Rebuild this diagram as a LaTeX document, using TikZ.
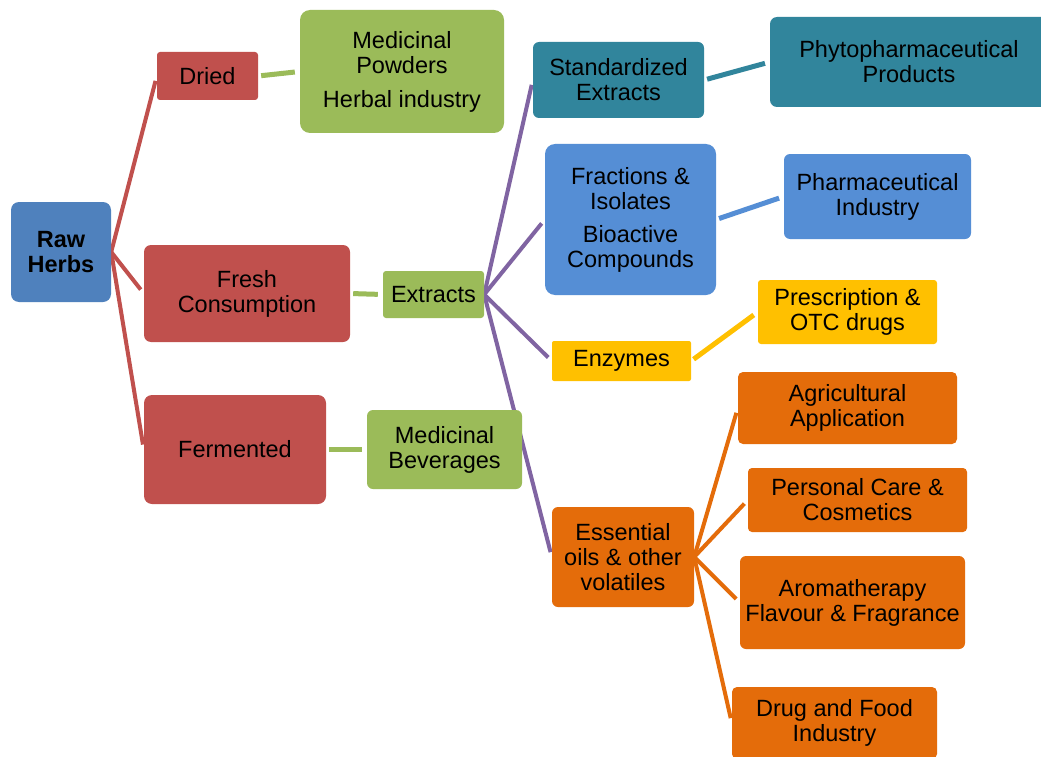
\documentclass[tikz,border=0pt]{standalone}
\usepackage{fontspec}
\setmainfont{Liberation Sans}
\usetikzlibrary{calc}

\definecolor{herbred}{HTML}{C0504D}
\definecolor{herbgreen}{HTML}{9BBB59}
\definecolor{herbblue}{HTML}{4F81BD}
\definecolor{herbteal}{HTML}{31859C}
\definecolor{herbsky}{HTML}{558ED5}
\definecolor{herbgold}{HTML}{FFC000}
\definecolor{herborange}{HTML}{E46C0A}
\definecolor{herbpurple}{HTML}{8064A2}

\pgfdeclarelayer{bg}
\pgfsetlayers{bg,main}

\begin{document}
\begin{tikzpicture}[
                x=1pt, y=-1pt,
                box/.style={rectangle, rounded corners=6pt, inner sep=0pt,
                    align=center, font=\fontsize{23.5}{25}\selectfont},
                fan/.style={line width=4pt, shorten >=5pt},
                link/.style={line width=5pt, shorten <=3pt, shorten >=5pt},
            ]
                \useasboundingbox (0, 0) rectangle (1041, 757);

                %% root and first level
                \node[box, fill=herbblue, minimum width=100, minimum height=100,
                    rounded corners=8pt, font=\fontsize{23.5}{25}\selectfont\bfseries]
                    (raw) at (61, 252) {Raw\\Herbs};
                \node[box, fill=herbred, minimum width=101, minimum height=48,
                    rounded corners=3pt] (dried) at (207.5, 76) {Dried};
                \node[box, fill=herbred, minimum width=206, minimum height=97,
                    rounded corners=7pt] (fresh) at (247, 293.5) {Fresh\\Consumption};
                \node[box, fill=herbred, minimum width=182, minimum height=109,
                    rounded corners=8pt] (fermented) at (235, 449.5) {Fermented};

                %% second level
                \node[box, fill=herbgreen, minimum width=204, minimum height=123,
                    rounded corners=10pt] (powders) at (402, 71.5)
                    {Medicinal\\Powders\\[9pt]Herbal industry};
                \node[box, fill=herbgreen, minimum width=101, minimum height=47,
                    rounded corners=3pt] (extracts) at (433.5, 294.5) {Extracts};
                \node[box, fill=herbgreen, minimum width=155, minimum height=79]
                    (beverages) at (444.5, 449.5) {Medicinal\\Beverages};

                %% what the extracts give
                \node[box, fill=herbteal, minimum width=171, minimum height=76]
                    (standard) at (618.5, 80) {Standardized\\Extracts};
                \node[box, fill=herbsky, minimum width=171, minimum height=151,
                    rounded corners=10pt] (fractions) at (630.5, 219.5)
                    {Fractions \&\\Isolates\\[8pt]Bioactive\\Compounds};
                \node[box, fill=herbgold, minimum width=139, minimum height=40,
                    rounded corners=2pt] (enzymes) at (621.5, 361) {Enzymes};
                \node[box, fill=herborange, minimum width=142, minimum height=100]
                    (essential) at (623, 557) {Essential\\oils \& other\\volatiles};

                %% end uses
                \node[box, fill=herbteal, minimum width=278, minimum height=90,
                    rounded corners=7pt] (phyto) at (909, 62)
                    {Phytopharmaceutical\\Products};
                \node[box, fill=herbsky, minimum width=187, minimum height=85]
                    (pharma) at (877.5, 196.5) {Pharmaceutical\\Industry};
                \node[box, fill=herbgold, minimum width=179, minimum height=64,
                    rounded corners=3pt] (otc) at (847.5, 312)
                    {Prescription \&\\OTC drugs};
                \node[box, fill=herborange, minimum width=219, minimum height=72,
                    rounded corners=5pt] (agri) at (847.5, 408)
                    {Agricultural\\Application};
                \node[box, fill=herborange, minimum width=219, minimum height=64,
                    rounded corners=4pt] (care) at (857.5, 500)
                    {Personal Care \&\\Cosmetics};
                \node[box, fill=herborange, minimum width=225, minimum height=93]
                    (aroma) at (852.5, 602.5) {Aromatherapy\\Flavour \& Fragrance};
                \node[box, fill=herborange, minimum width=205, minimum height=72,
                    rounded corners=5pt] (drug) at (834.5, 723)
                    {Drug and Food\\Industry};

                %% connectors sit behind the boxes
                \begin{pgfonlayer}{bg}
                    \fill[white] (0, 0) rectangle (1041, 757);
                    \foreach \c in {dried, fresh, fermented}
                        \draw[fan, herbred] (raw.east) -- (\c.west);
                    \foreach \c in {standard, fractions, enzymes, essential}
                        \draw[fan, herbpurple] (extracts.east) -- (\c.west);
                    \foreach \c in {agri, care, aroma, drug}
                        \draw[fan, herborange] (essential.east) -- (\c.west);
                    \draw[link, herbgreen] (dried.east) -- (powders.west);
                    \draw[link, herbgreen] (fresh.east) -- (extracts.west);
                    \draw[link, herbgreen] (fermented.east) -- (beverages.west);
                    \draw[link, herbteal] (standard.east) -- (phyto.west);
                    \draw[link, herbsky] (fractions.east) -- (pharma.west);
                    \draw[link, herbgold] (enzymes.east) -- (otc.west);
                \end{pgfonlayer}
            \end{tikzpicture}
\end{document}
